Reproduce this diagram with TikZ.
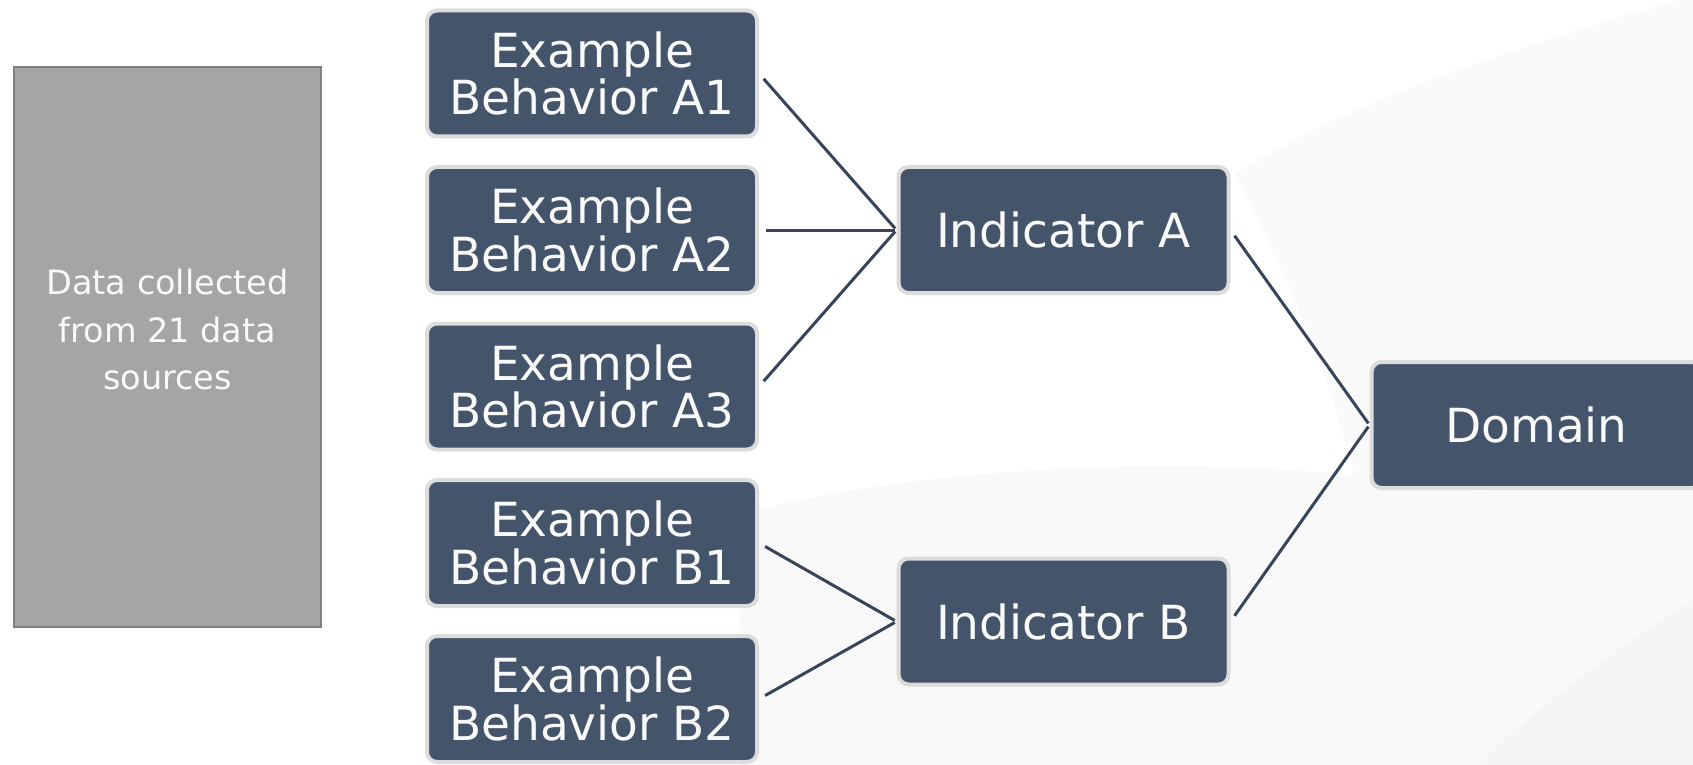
\documentclass[tikz,border=0pt]{standalone}
\usepackage{fontspec}
\setmainfont{DejaVu Sans}
\definecolor{boxblue}{HTML}{44546A}
\definecolor{boxglow}{HTML}{DCDCDC}
\definecolor{linkblue}{HTML}{36455A}
\definecolor{datagray}{HTML}{A5A5A5}
\definecolor{dataedge}{HTML}{7F7F7F}
\tikzset{
  behavior/.style={fill=boxblue, draw=boxglow, line width=2pt, rounded corners=5pt,
    minimum width=165pt, minimum height=63pt, inner sep=0pt, align=center,
    text=white!95!gray, font=\fontsize{23.5}{23.75}\selectfont},
  indicator/.style={behavior},
  link/.style={draw=linkblue, line width=1.5pt, shorten <=3.5pt, shorten >=1pt}
}
\begin{document}
\begin{tikzpicture}[x=0.5pt,y=-0.5pt]

    \path[use as bounding box, clip] (0,0) rectangle (1693,765);
    \fill[white] (0,0) rectangle (1693,765);

    % faint background swooshes
    \fill[gray!4] (1693,0) -- (1680,0) .. controls (1500,50) and (1330,110) .. (1235,175)
        .. controls (1300,300) and (1350,420) .. (1370,560) -- (1693,560) -- cycle;
    \fill[gray!5] (740,515) .. controls (900,470) and (1150,455) .. (1350,475)
        .. controls (1500,490) and (1620,520) .. (1693,545) -- (1693,765) -- (740,765) -- cycle;
    \fill[gray!8] (1693,600) .. controls (1600,660) and (1520,720) .. (1480,765) -- (1693,765) -- cycle;

    % Step 1: data sources
    \node[fill=datagray, draw=dataedge, line width=1pt, minimum width=153.5pt,
          minimum height=280pt, inner sep=0pt] (data) at (167.5,347) {};
    \node[text=white!95!gray, align=center, font=\fontsize{16.75}{23.75}\selectfont]
          (datatext) at (167.5,330) {Data collected\\from 21 data\\sources};

    % Step 2: example behaviors
    \foreach \name/\y in {A1/73.5, A2/230, A3/386.5, B1/543, B2/699} {
        \node[behavior] (beh\name) at (592,\y) {Example\\Behavior \name};
    }

    % Step 3: indicators and domain
    \node[indicator] (indA) at (1063.5,230) {Indicator A};
    \node[indicator] (indB) at (1063.5,621.5) {Indicator B};
    \node[indicator] (domain) at (1536.5,425) {Domain};

    % Connectors
    \foreach \name in {A1,A2,A3} {
        \draw[link] (beh\name.east) -- (indA.west);
    }
    \foreach \name in {B1,B2} {
        \draw[link] (beh\name.east) -- (indB.west);
    }
    \draw[link] (indA.east) -- (domain.west);
    \draw[link] (indB.east) -- (domain.west);

\end{tikzpicture}
\end{document}
